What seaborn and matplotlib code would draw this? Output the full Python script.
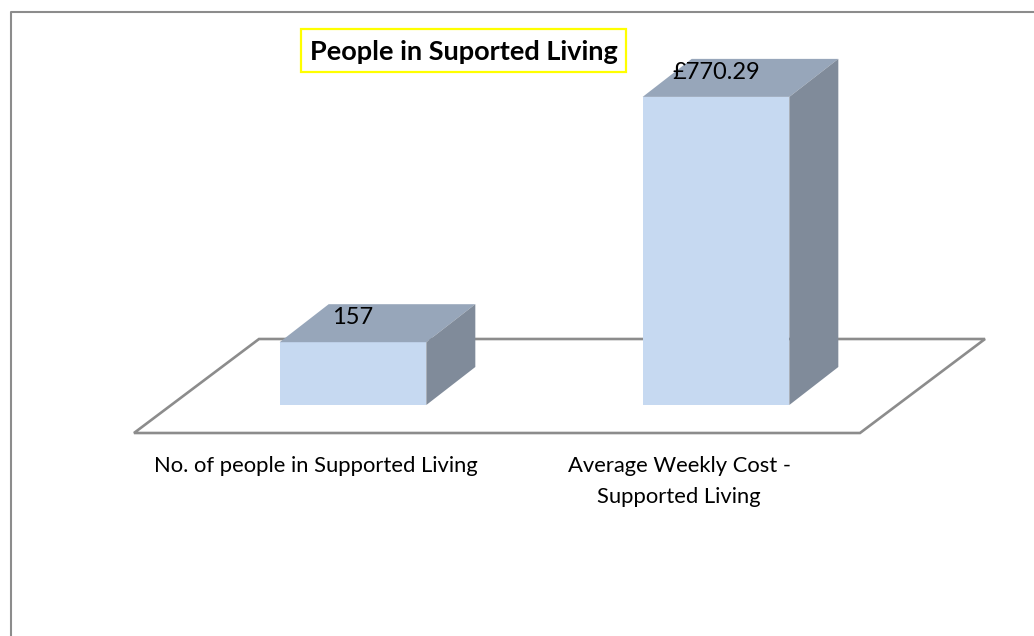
import matplotlib
matplotlib.use("Agg")
import matplotlib.pyplot as plt
import seaborn as sns
import pandas as pd
from matplotlib.patches import Polygon, Rectangle
from matplotlib.lines import Line2D
from matplotlib.transforms import IdentityTransform, ScaledTranslation

# ---- data ----
categories = ["No. of people in Supported Living",
              "Average Weekly Cost -\nSupported Living"]
values = [157, 770.29]
value_labels = ["157", "£770.29"]
title = "People in Suported Living"

# ---- style ----
W, H = 1034, 636
FRONT, TOP, SIDE = "#C6D9F1", "#97A6BA", "#808B9A"
GREY = "#8C8C8C"
DEPTH_X, DEPTH_Y = 49, 38

sns.set_theme(style="white")
plt.rcParams["font.family"] = ["Lato", "DejaVu Sans"]

fig = plt.figure(figsize=(W / 100, H / 100), dpi=100, facecolor="white")
ident = IdentityTransform()


def px(x, y):
    return (x, H - y)


# axes placed in pixel terms: 0 at y=405, 800 at y=85
ax = fig.add_axes([171.5 / W, (H - 405) / H, 726 / W, 320 / H])
ax.patch.set_alpha(0)

df = pd.DataFrame({"category": categories, "value": values})
sns.barplot(data=df, x="category", y="value", color=FRONT, saturation=1,
            width=0.404, ax=ax, zorder=3, linewidth=0, edgecolor="none")
ax.set_xlim(-0.5, 1.5)
ax.set_ylim(0, 800)
ax.set_xlabel("")
ax.set_ylabel("")
ax.yaxis.set_visible(False)
for s in ax.spines.values():
    s.set_visible(False)

# tick labels
ax.tick_params(axis="x", length=0, pad=36.5, labelsize=15.8, labelcolor="black")
shift = ScaledTranslation(-37 / 100, 0, fig.dpi_scale_trans)
for lab in ax.get_xticklabels():
    lab.set_linespacing(1.69)
    lab.set_transform(lab.get_transform() + shift)
    lab.set_color("black")

# value labels
ax.bar_label(ax.containers[0], labels=value_labels, padding=10,
             fontsize=17, color="black", zorder=6)

# 3-D faces, derived from each drawn bar
fig.canvas.draw()
for bar in ax.containers[0]:
    (x0, y0), (x1, y1) = ax.transData.transform(
        [(bar.get_x(), 0), (bar.get_x() + bar.get_width(), bar.get_height())])
    ax.add_patch(Polygon([(x0, y1), (x1, y1), (x1 + DEPTH_X, y1 + DEPTH_Y),
                          (x0 + DEPTH_X, y1 + DEPTH_Y)],
                         closed=True, transform=ident, facecolor=TOP,
                         edgecolor="none", clip_on=False, zorder=4))
    ax.add_patch(Polygon([(x1, y0), (x1 + DEPTH_X, y0 + DEPTH_Y),
                          (x1 + DEPTH_X, y1 + DEPTH_Y), (x1, y1)],
                         closed=True, transform=ident, facecolor=SIDE,
                         edgecolor="none", clip_on=False, zorder=4))

# floor
floor = Polygon([px(134, 433), px(860, 433), px(985, 339), px(259, 339)],
                closed=True, transform=ident, facecolor="white",
                edgecolor=GREY, linewidth=1.9, joinstyle="miter", zorder=-1)
fig.add_artist(floor)

# outer border (top and left only reach the image)
fig.add_artist(Line2D([px(11, 636)[0], px(11, 12)[0], px(1034, 12)[0]],
                      [px(11, 636)[1], px(11, 12)[1], px(1034, 12)[1]],
                      transform=ident, color=GREY, linewidth=1.5, zorder=-2))

# title in yellow box
fig.add_artist(Rectangle(px(300.5, 71.5), 325, 43, transform=ident,
                         facecolor="white", edgecolor="#FFFF00",
                         linewidth=1.6, zorder=9))
fig.text(464 / W, (H - 52) / H, title, ha="center", va="center",
         fontsize=19.5, fontweight="bold", color="black", zorder=10)

fig.savefig("out.png", dpi=100, facecolor="white")
